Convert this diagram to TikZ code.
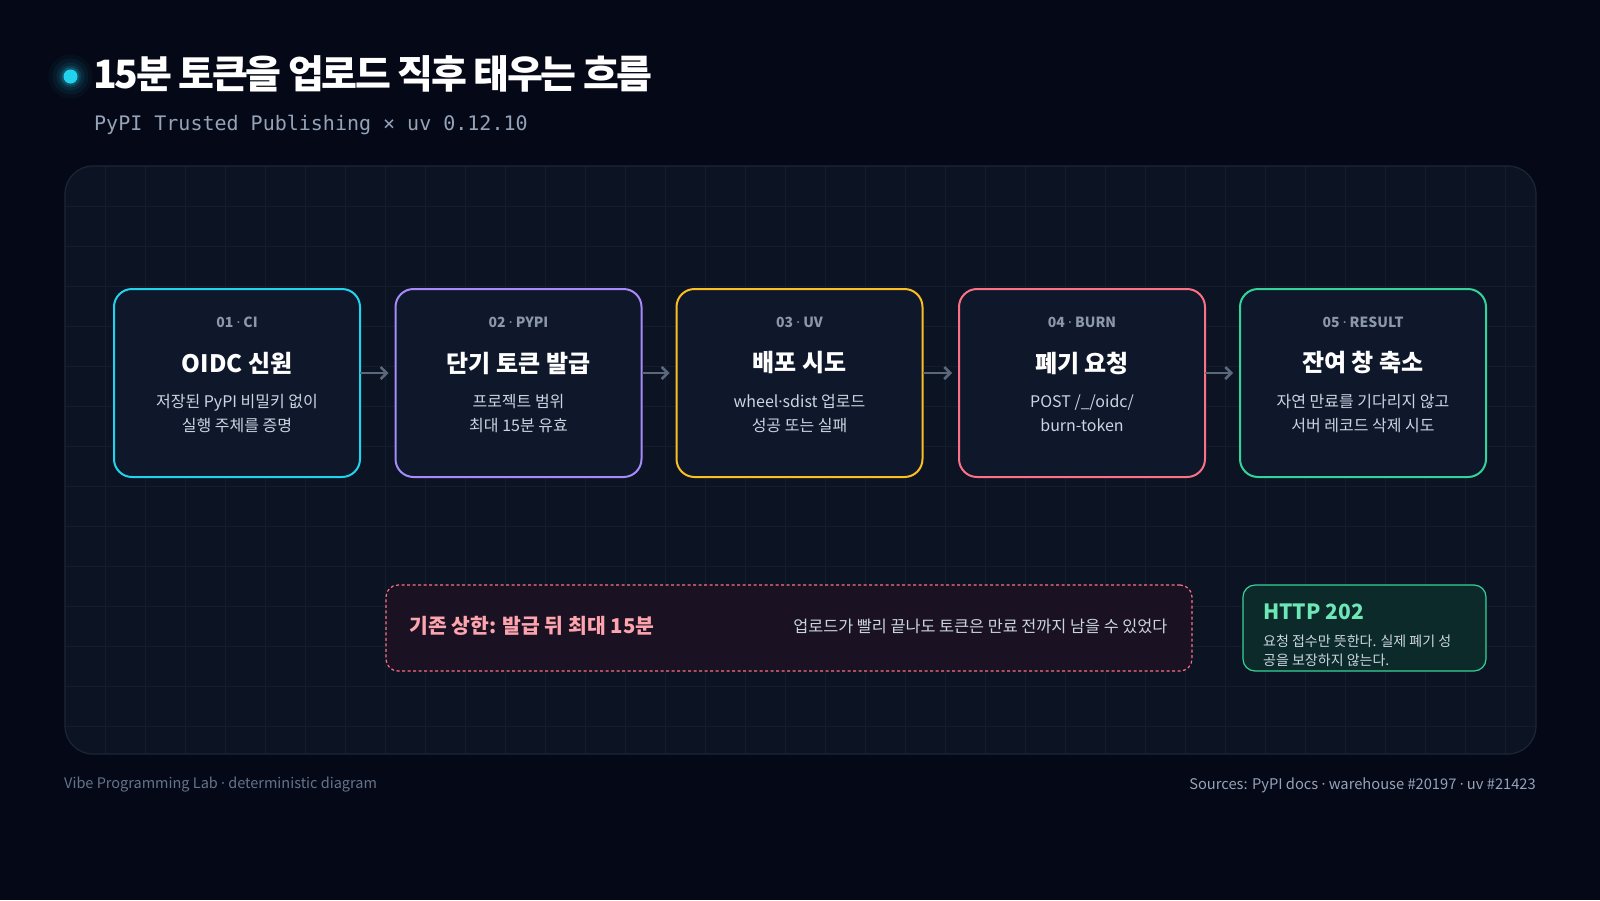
\documentclass[tikz,border=0pt]{standalone}
\usepackage{fontspec}
\setmainfont{Noto Sans CJK KR}
\newfontfamily\titlefont{Noto Sans CJK KR}[LetterSpace=-6]
\newfontfamily\monofont{DejaVu Sans Mono}
\newfontfamily\dotfont{Noto Sans}
\newcommand\mdot{{\dotfont ·}}
\usetikzlibrary{arrows.meta,calc}
\definecolor{bgc}{HTML}{050816}
\definecolor{panelc}{HTML}{0C1322}
\definecolor{panelline}{HTML}{1C2638}
\definecolor{gridc}{HTML}{141D2D}
\definecolor{boxfill}{HTML}{0F172A}
\definecolor{cyanc}{HTML}{22D3EE}
\definecolor{violetc}{HTML}{A78BFA}
\definecolor{amberc}{HTML}{FBBF24}
\definecolor{rosec}{HTML}{FB7185}
\definecolor{emeraldc}{HTML}{34D399}
\definecolor{labelc}{HTML}{8B97AB}
\definecolor{descc}{HTML}{CBD5E1}
\definecolor{subc}{HTML}{94A3B8}
\definecolor{footc}{HTML}{64748B}
\definecolor{arrowc}{HTML}{5B687C}
\definecolor{warnfill}{HTML}{1A1122}
\definecolor{warntext}{HTML}{FDA4AF}
\definecolor{okfill}{HTML}{0C2A2A}
\definecolor{oktext}{HTML}{6EE7B7}
\tikzset{
  stepbox/.style={draw, line width=2pt, fill=boxfill, rounded corners=18pt,
    minimum width=246pt, minimum height=188pt, inner sep=0pt},
  steplabel/.style={text=labelc, font=\fontsize{14}{16}\selectfont\bfseries, inner sep=0pt},
  steptitle/.style={text=white, font=\fontsize{24}{28}\selectfont\bfseries, inner sep=0pt},
  stepdesc/.style={text=descc, font=\fontsize{16}{24}\selectfont, align=center, inner sep=0pt},
  flowarrow/.style={draw=arrowc, line width=2.5pt, -{Straight Barb[length=6pt,width=12pt]}},
  gridline/.style={draw=gridc, line width=0.8pt},
}
\begin{document}
\begin{tikzpicture}[x=1pt,y=-1pt]
\useasboundingbox (0,0) rectangle (1600,900);
\fill[bgc] (0,0) rectangle (1600,900);
% title dot with glow
\foreach \r/\o in {22/0.04,18/0.06,14/0.08,11/0.12,9/0.18} {
  \fill[cyanc, opacity=\o] (70.5,76.5) circle (\r);
}
\fill[cyanc] (70.5,76.5) circle (7);
\node[anchor=west, text=white, inner sep=0pt, font=\titlefont\fontsize{39}{44}\selectfont\bfseries] (title) at (93,73.5) {15분 토큰을 업로드 직후 태우는 흐름};
\node[anchor=west, text=subc, inner sep=0pt, font=\monofont\fontsize{20}{24}\selectfont] (subtitle) at (94,124.5) {PyPI Trusted Publishing × uv 0.12.10};
% panel
\fill[panelc] (65,166) [rounded corners=28pt] rectangle (1536,754);
\begin{scope}
  \clip[rounded corners=28pt] (65,166) rectangle (1536,754);
  \foreach \gx in {105,145,...,1535} { \draw[gridline] (\gx,166) -- (\gx,754); }
  \foreach \gy in {206,246,...,753} { \draw[gridline] (65,\gy) -- (1536,\gy); }
\end{scope}
\draw[panelline, line width=1.2pt, rounded corners=28pt] (65,166) rectangle (1536,754);
% boxes
\node[stepbox, draw=cyanc] (b1) at (237,383) {};
\node[stepbox, draw=violetc] (b2) at (518.5,383) {};
\node[stepbox, draw=amberc] (b3) at (799.5,383) {};
\node[stepbox, draw=rosec] (b4) at (1082,383) {};
\node[stepbox, draw=emeraldc] (b5) at (1363,383) {};
% texts
\node[steplabel] (l1) at ($(b1.center)+(0,-60.5)$) {01 \mdot{} CI};
\node[steptitle] (t1) at ($(b1.center)+(0,-20)$) {OIDC 신원};
\node[stepdesc] (d1) at ($(b1.center)+(0,30.5)$) {저장된 PyPI 비밀키 없이\\실행 주체를 증명};
\node[steplabel] (l2) at ($(b2.center)+(0,-60.5)$) {02 \mdot{} PYPI};
\node[steptitle] (t2) at ($(b2.center)+(0,-20)$) {단기 토큰 발급};
\node[stepdesc] (d2) at ($(b2.center)+(0,30.5)$) {프로젝트 범위\\최대 15분 유효};
\node[steplabel] (l3) at ($(b3.center)+(0,-60.5)$) {03 \mdot{} UV};
\node[steptitle] (t3) at ($(b3.center)+(0,-20)$) {배포 시도};
\node[stepdesc] (d3) at ($(b3.center)+(0,30.5)$) {wheel\mdot{}sdist 업로드\\성공 또는 실패};
\node[steplabel] (l4) at ($(b4.center)+(0,-60.5)$) {04 \mdot{} BURN};
\node[steptitle] (t4) at ($(b4.center)+(0,-20)$) {폐기 요청};
\node[stepdesc] (d4) at ($(b4.center)+(0,30.5)$) {POST /\_/oidc/\\burn-token};
\node[steplabel] (l5) at ($(b5.center)+(0,-60.5)$) {05 \mdot{} RESULT};
\node[steptitle] (t5) at ($(b5.center)+(0,-20)$) {잔여 창 축소};
\node[stepdesc] (d5) at ($(b5.center)+(0,30.5)$) {자연 만료를 기다리지 않고\\서버 레코드 삭제 시도};
% arrows
\draw[flowarrow] ($(b1.east)+(-1,-10)$) -- ($(b2.west)+(-6,-10)$);
\draw[flowarrow] ($(b2.east)+(-1,-10)$) -- ($(b3.west)+(-6,-10)$);
\draw[flowarrow] ($(b3.east)+(-1,-10)$) -- ($(b4.west)+(-6,-10)$);
\draw[flowarrow] ($(b4.east)+(-1,-10)$) -- ($(b5.west)+(-6,-10)$);
% warning box
\node[draw=rosec, line width=1.2pt, dash pattern=on 3pt off 2.5pt, fill=warnfill, rounded corners=12pt,
  minimum width=806pt, minimum height=86pt, inner sep=0pt] (warn) at (789,628) {};
\node[anchor=west, text=warntext, inner sep=0pt, font=\fontsize{20.4}{24}\selectfont\bfseries] (warnt) at ($(warn.west)+(24,-2)$) {기존 상한: 발급 뒤 최대 15분};
\node[anchor=east, text=descc, inner sep=0pt, font=\fontsize{16.3}{20}\selectfont] (warnd) at ($(warn.east)+(-25,-2)$) {업로드가 빨리 끝나도 토큰은 만료 전까지 남을 수 있었다};
% ok box
\node[draw=emeraldc, line width=1.2pt, fill=okfill, rounded corners=12pt,
  minimum width=243pt, minimum height=86pt, inner sep=0pt] (ok) at (1364.5,628) {};
\node[anchor=west, text=oktext, inner sep=0pt, font=\fontsize{21}{24}\selectfont\bfseries] (okt) at (1263,612) {HTTP 202};
\node[anchor=north west, text=descc, inner sep=0pt, align=left, font=\fontsize{14}{19}\selectfont] (okd) at (1263,635) {요청 접수만 뜻한다. 실제 폐기 성\\공을 보장하지 않는다.};
% footer
\node[anchor=west, text=footc, inner sep=0pt, font=\fontsize{14.5}{18}\selectfont] (footl) at (64,785) {Vibe Programming Lab \mdot{} deterministic diagram};
\node[anchor=east, text=subc, inner sep=0pt, font=\fontsize{14.7}{18}\selectfont] (footr) at (1536,785) {Sources: PyPI docs \mdot{} warehouse \#20197 \mdot{} uv \#21423};
\end{tikzpicture}
\end{document}
